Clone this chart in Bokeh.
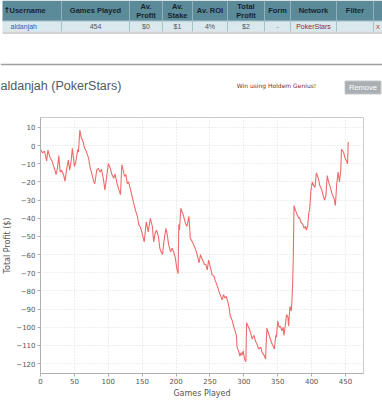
from bokeh.plotting import figure
from bokeh.models import Range1d, FixedTicker
from bokeh.embed import file_html
from bokeh.resources import INLINE
from bokeh.core.properties import value

# ---------------- data ----------------
sort_arrow = "\u2191"
table_columns = ["Username", "Games Played", "Av.\nProfit", "Av.\nStake", "Av. ROI",
                 "Total\nProfit", "Form", "Network", "Filter", ""]
table_row = ["aldanjah", "454", "$0", "$1", "4%", "$2", "-", "PokerStars", "", "x"]

title_text = "aldanjah (PokerStars)"
promo_text = "Win using Holdem Genius!"
button_text = "Remove"

games = [0, 3, 6, 9, 11, 14, 17, 20, 23, 25, 27, 29, 31, 34, 36, 39, 41, 43, 45, 47,
         49, 50, 52, 55, 56, 58, 60, 63, 65, 67, 71, 73, 76, 78, 80, 83, 85, 88, 90, 93,
         95, 98, 100, 103, 105, 108, 110, 113, 115, 118, 120, 122, 124, 126, 128, 130, 133, 137, 140, 143,
         145, 148, 150, 153, 156, 159, 162, 165, 167, 169, 171, 174, 176, 178, 180, 182, 185, 187, 189, 192,
         194, 197, 199, 201, 203, 204, 205, 207, 210, 214, 216, 219, 221, 224, 227, 230, 234, 236, 239, 242,
         244, 246, 248, 251, 253, 256, 258, 261, 263, 266, 268, 270, 272, 274, 276, 278, 280, 283, 285, 289,
         290, 293, 294, 296, 297, 299, 301, 303, 304, 307, 310, 312, 315, 317, 320, 322, 325, 327, 330, 332,
         334, 337, 339, 342, 345, 347, 348, 350, 352, 354, 356, 358, 359, 361, 363, 365, 366, 368, 370, 371,
         372, 373, 374, 376, 379, 381, 382, 384, 387, 389, 391, 392, 394, 396, 397, 399, 401, 403, 405, 407,
         410, 412, 415, 417, 419, 421, 423, 425, 428, 430, 433, 435, 437, 439, 441, 443, 444, 447, 449, 452,
         453, 454]
profit = [-2, -4, -3, -8.5, -2.5, -6.5, -8.5, -12, -16, -12.5, -5.5, -14.5, -13.5, -16, -19.5, -12, -8, -13.5, -9, -1.5,
          -8, -11.5, -9, -2, -3.5, 8.5, 4.5, 2, -1.5, -2.5, -7, -11.5, -16, -19, -21, -13.5, -12.5, -14.5, -13, -19,
          -24.5, -16, -10, -12.5, -15.5, -18, -15.5, -21, -23.5, -27, -10.5, -13.5, -17, -16, -21, -20, -24.5, -31, -35.5, -39,
          -43.5, -45.5, -48.5, -53, -42, -47.5, -40, -44.5, -53, -48.5, -46.5, -50, -56.5, -58.5, -60, -53, -45.5, -49, -54.5, -58.5,
          -56.5, -59, -62, -67.5, -70.5, -43.5, -46.5, -34.5, -37.5, -43, -44.5, -39, -51, -53, -55.5, -58.5, -64.5, -60, -63, -65.5,
          -65.5, -68.5, -63, -67.5, -71, -72, -74.5, -77.5, -80, -83, -85, -82, -84, -83, -85.5, -88.5, -94, -96.5, -99.5, -104.5,
          -111, -114, -116, -114, -115.5, -113, -117.5, -119, -97.5, -100, -103, -106.5, -104.5, -107.5, -110, -112, -111, -114, -115.5, -117.5,
          -100.5, -104, -106.5, -109.5, -112, -104.5, -105.5, -96.5, -100, -99.5, -102, -100, -104.5, -99.5, -93, -94.5, -99.5, -88.5, -91, -85,
          -76, -60, -33, -35.5, -38.5, -40, -39.5, -42, -43.5, -45.5, -44.5, -46.5, -44.5, -36.5, -35.5, -24.5, -20, -22, -23, -15,
          -18, -22, -24.5, -27.5, -30, -27.5, -16.5, -20, -23.5, -26.5, -29, -33, -21, -14.5, -20, -13.5, -2, -3.5, -6.5, -9,
          -10, 2]

x_ticks = [0, 50, 100, 150, 200, 250, 300, 350, 400, 450]
y_ticks = [-120, -110, -100, -90, -80, -70, -60, -50, -40, -30, -20, -10, 0, 10]

# ---------------- header (table + title); coordinates = page pixels ----------------
HEAD = value("Liberation Sans")
DEJA = value("DejaVu Sans")
W = 382
hdr = figure(width=W, height=100, x_range=Range1d(0, W), y_range=Range1d(100, 0),
             toolbar_location=None, output_backend="svg",
             x_axis_location=None, y_axis_location=None,
             min_border=0, outline_line_color=None)
hdr.grid.visible = False
hdr.background_fill_color = "white"
hdr.border_fill_color = "white"

edges = [2, 61, 129, 162, 192, 227, 264, 290, 336, 373, 382]
head_top, head_bot, row_bot = 0, 20.5, 31

hdr.quad(left=[edges[0]], right=[edges[-1]], top=[head_top], bottom=[head_bot],
         fill_color="#5b8b99", line_color=None)
hdr.quad(left=[edges[0]], right=[edges[-1]], top=[head_bot], bottom=[row_bot],
         fill_color="#d9e8ed", line_color=None)
hdr.quad(left=[edges[0]], right=[edges[-1]], top=[row_bot], bottom=[row_bot + 2.5],
         fill_color="#d2d2d2", line_color=None)
n_sep = len(edges) - 2
hdr.segment(x0=edges[1:-1], y0=[head_top] * n_sep, x1=edges[1:-1], y1=[head_bot] * n_sep,
            line_color="#8fb2bd", line_width=1)
hdr.segment(x0=edges[1:-1], y0=[head_bot] * n_sep, x1=edges[1:-1], y1=[row_bot] * n_sep,
            line_color="#a8c2ca", line_width=1)
hdr.segment(x0=[edges[0]], y0=[head_bot], x1=[edges[-1]], y1=[head_bot],
            line_color="#a8c2ca", line_width=1)

mid = (head_top + head_bot) / 2
# sort arrow in front of the first column title
hdr.text(x=[edges[0] + 1], y=[mid], text=[sort_arrow], text_font=DEJA, text_font_style="bold",
         text_font_size="8px", text_color="#0f1a24", text_align="left", text_baseline="middle")
for i, lab in enumerate(table_columns):
    if not lab:
        continue
    lines = lab.split("\n")
    if i == 0:
        xs, align = edges[0] + 7, "left"
    else:
        xs, align = (edges[i] + edges[i + 1]) / 2, "center"
    ys = [mid] if len(lines) == 1 else [mid - 4.5, mid + 4.5]
    hdr.text(x=[xs] * len(lines), y=ys, text=lines, text_font=HEAD, text_font_style="bold",
             text_font_size="7.5px", text_color="#17242f", text_align=align,
             text_baseline="middle")

row_colors = ["#2a62b8", "#555555", "#555555", "#555555", "#555555", "#555555",
              "#888888", "#9a2a2a", "#555555", "#cc3333"]
for i, val in enumerate(table_row):
    if not val:
        continue
    if i == 0:
        xs, align = edges[0] + 8, "left"
    else:
        xs, align = (edges[i] + edges[i + 1]) / 2, "center"
    hdr.text(x=[xs], y=[(head_bot + row_bot) / 2], text=[val], text_font=HEAD,
             text_font_size="7px", text_color=row_colors[i], text_align=align,
             text_baseline="middle")

hdr.segment(x0=[0], y0=[64], x1=[W], y1=[64], line_color="#a0a0a0", line_width=1.5)

hdr.text(x=[0], y=[85], text=[title_text], text_font=HEAD,
         text_font_size="12.5px", text_color="#4d5a64", text_align="left", text_baseline="middle")
hdr.text(x=[276], y=[84.5], text=[promo_text], text_font=DEJA, text_font_size="6px",
         text_color="#7a2c2c", text_align="center", text_baseline="middle")
hdr.quad(left=[344.5], right=[380.5], top=[80.5], bottom=[93.5], fill_color="#a9afb3",
         line_color="#c4c8cb")
hdr.text(x=[362.5], y=[87], text=[button_text], text_font=HEAD, text_font_size="7.5px",
         text_color="white", text_align="center", text_baseline="middle")

# ---------------- chart ----------------
p = figure(width=W, height=300, x_range=Range1d(0, 476.5), y_range=Range1d(-125.5, 15.5),
           toolbar_location=None, output_backend="svg",
           min_border_left=40, min_border_right=19, min_border_top=17, min_border_bottom=25,
           x_axis_label="Games Played", y_axis_label="Total Profit ($)")
p.background_fill_color = "white"
p.border_fill_color = "white"
p.outline_line_color = "#cccccc"

p.line(games, profit, line_color="#ef6b6b", line_width=1.1)

p.xaxis.ticker = FixedTicker(ticks=x_ticks)
p.yaxis.ticker = FixedTicker(ticks=y_ticks)
for ax in (p.xaxis, p.yaxis):
    ax.axis_line_color = "#b0b0b0"
    ax.major_tick_line_color = "#b0b0b0"
    ax.minor_tick_line_color = None
    ax.major_tick_in = 0
    ax.major_tick_out = 3
    ax.major_label_text_font = "DejaVu Sans"
    ax.major_label_text_font_size = "7px"
    ax.major_label_text_color = "#555555"
    ax.axis_label_text_font = "DejaVu Sans"
    ax.axis_label_text_font_size = "8px"
    ax.axis_label_text_font_style = "normal"
    ax.axis_label_text_color = "#555555"
p.xaxis.major_label_standoff = 1
p.xaxis.axis_label_standoff = 2
p.yaxis.major_label_standoff = 2
p.yaxis.axis_label_standoff = 1

p.grid.grid_line_color = "#dddddd"
p.grid.grid_line_dash = "1 2"

open("out.html", "w").write(file_html([hdr, p], INLINE))
